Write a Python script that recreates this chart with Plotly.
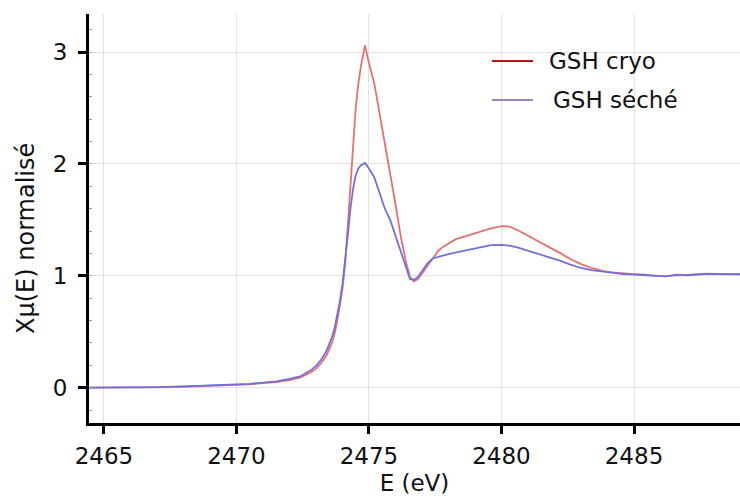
import plotly.graph_objects as go

# Energy grid (eV) shared by both spectra
energy = [
    2464.4, 2465.0, 2466.0, 2467.0, 2468.0, 2469.0, 2469.5, 2470.0, 2470.5, 2471.0,
    2471.5, 2472.0, 2472.4, 2472.8, 2473.0, 2473.2, 2473.4, 2473.6, 2473.7, 2473.8,
    2473.9, 2474.0, 2474.1, 2474.2, 2474.3, 2474.4, 2474.5, 2474.6, 2474.7, 2474.85,
    2475.0, 2475.2, 2475.4, 2475.6, 2475.8, 2476.0, 2476.2, 2476.4, 2476.55, 2476.7,
    2476.85, 2477.0, 2477.2, 2477.4, 2477.6, 2477.8, 2478.0, 2478.3, 2478.6, 2479.0,
    2479.3, 2479.6, 2480.0, 2480.3, 2480.6, 2481.0, 2481.4, 2481.8, 2482.2, 2482.6,
    2483.0, 2483.4, 2483.8, 2484.2, 2484.6, 2485.0, 2485.4, 2485.8, 2486.2, 2486.6,
    2487.0, 2487.4, 2487.8, 2488.2, 2488.6, 2489.0,
]

# Normalised absorption, cryo sample
gsh_cryo = [
    0.0, 0.0, 0.0, 0.003, 0.008, 0.015, 0.018, 0.022, 0.03, 0.04,
    0.05, 0.068, 0.09, 0.135, 0.17, 0.22, 0.29, 0.40, 0.48, 0.59,
    0.72, 0.88, 1.10, 1.45, 1.85, 2.22, 2.50, 2.72, 2.88, 3.06,
    2.90, 2.72, 2.45, 2.20, 1.92, 1.64, 1.35, 1.12, 0.99, 0.95,
    0.97, 1.02, 1.09, 1.16, 1.22, 1.26, 1.29, 1.33, 1.35, 1.38,
    1.405, 1.425, 1.445, 1.44, 1.41, 1.36, 1.31, 1.26, 1.205, 1.15,
    1.105, 1.07, 1.045, 1.03, 1.02, 1.015, 1.01, 1.0, 0.998, 1.005,
    1.01, 1.015, 1.02, 1.017, 1.015, 1.016,
]

# Normalised absorption, dried sample
gsh_seche = [
    0.0, 0.0, 0.002, 0.005, 0.012, 0.02, 0.021, 0.026, 0.034, 0.045,
    0.056, 0.078, 0.10, 0.155, 0.195, 0.25, 0.33, 0.45, 0.53, 0.65,
    0.77, 0.93, 1.12, 1.36, 1.60, 1.78, 1.90, 1.96, 1.99, 2.01,
    1.96, 1.88, 1.74, 1.60, 1.50, 1.36, 1.22, 1.08, 0.97, 0.965,
    0.99, 1.04, 1.11, 1.155, 1.17, 1.18, 1.195, 1.21, 1.225, 1.245,
    1.265, 1.275, 1.277, 1.27, 1.255, 1.225, 1.20, 1.165, 1.135, 1.10,
    1.07, 1.05, 1.04, 1.025, 1.015, 1.012, 1.008, 1.005, 0.995, 1.01,
    1.005, 1.012, 1.018, 1.015, 1.012, 1.014,
]

series_names = ["GSH cryo", "GSH séché"]
x_ticks = [2465, 2470, 2475, 2480, 2485]
y_ticks = [0, 1, 2, 3]

FONT = "DejaVu Sans"
curve_colors = ["rgb(232,112,112)", "rgb(112,112,225)"]
legend_colors = ["rgb(192,20,20)", "rgb(140,140,195)"]

fig = go.Figure()
for name, ys, col in zip(series_names, [gsh_cryo, gsh_seche], curve_colors):
    fig.add_trace(go.Scatter(
        x=energy, y=ys, mode="lines", name=name, showlegend=False,
        line=dict(color=col, width=1.8),
    ))

# Hand-placed legend: short line sample followed by the series name
legend_rows = [0.885, 0.79]
text_x = [0.704, 0.709]
for name, col, yp, tx in zip(series_names, legend_colors, legend_rows, text_x):
    fig.add_shape(type="line", xref="paper", yref="paper",
                  x0=0.619, x1=0.682, y0=yp, y1=yp,
                  line=dict(color=col, width=2))
    fig.add_annotation(xref="paper", yref="paper", x=tx, y=yp,
                       xanchor="left", yanchor="middle", showarrow=False,
                       text=name, font=dict(family=FONT, size=23, color="#111"))

# y axis title
fig.add_annotation(xref="paper", yref="paper", x=-0.097, y=0.452,
                   xanchor="center", yanchor="middle", showarrow=False,
                   textangle=-90, text="Xμ(E) normalisé",
                   font=dict(family=FONT, size=24, color="#111"))

fig.update_layout(
    width=740, height=500,
    margin=dict(l=89, r=0, t=14, b=77),
    paper_bgcolor="white", plot_bgcolor="white",
    font=dict(family=FONT, size=23, color="#111"),
    showlegend=False,
    xaxis=dict(
        range=[2464.435, 2489.0], tickvals=x_ticks, ticktext=[str(v) for v in x_ticks],
        showline=True, linecolor="black", linewidth=3,
        ticks="outside", ticklen=8, tickwidth=3, tickcolor="black",
        showgrid=True, gridcolor="rgb(226,226,226)", gridwidth=1,
        zeroline=False, ticklabelstandoff=2,
        title=dict(text="E (eV)", font=dict(family=FONT, size=23), standoff=8),
    ),
    yaxis=dict(
        range=[-0.316, 3.341], tickvals=y_ticks, ticktext=[str(v) for v in y_ticks],
        showline=True, linecolor="black", linewidth=3,
        ticks="outside", ticklen=8, tickwidth=3, tickcolor="black",
        showgrid=True, gridcolor="rgb(226,226,226)", gridwidth=1,
        zeroline=False, ticklabelstandoff=6,
        minor=dict(dtick=0.2, ticks="inside", ticklen=3, tickwidth=1,
                   tickcolor="rgb(150,150,150)", showgrid=False),
    ),
)

fig.write_html("out.html")
